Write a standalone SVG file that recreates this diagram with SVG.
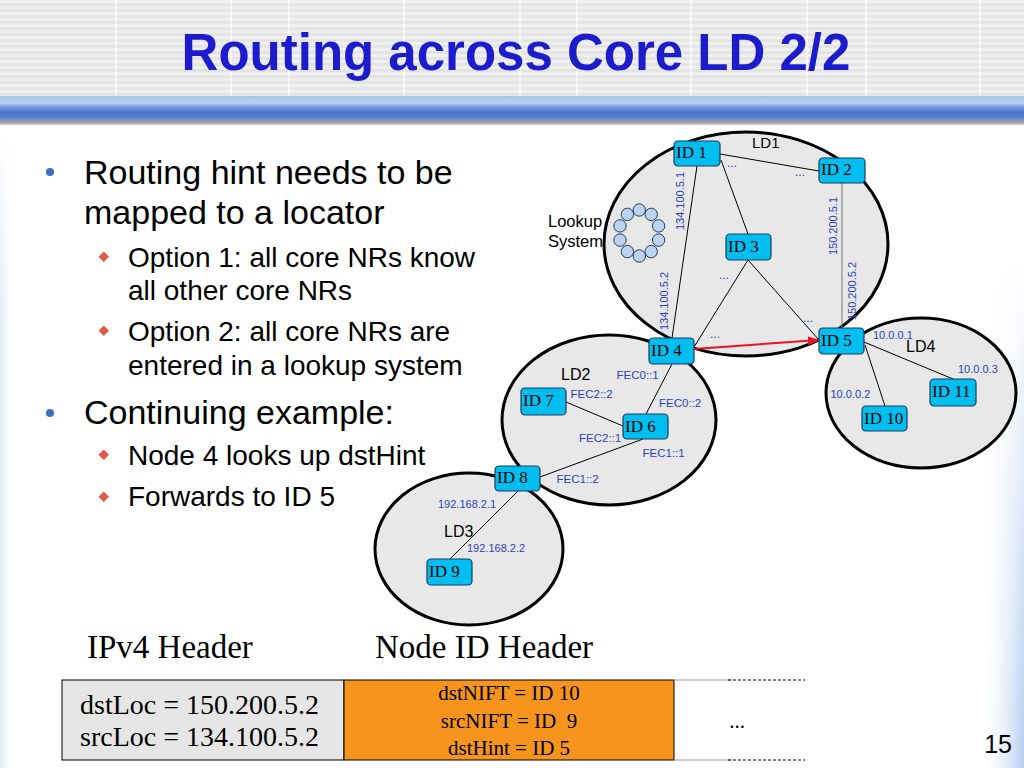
<svg xmlns="http://www.w3.org/2000/svg" width="1024" height="768" viewBox="0 0 1024 768">
<defs>
<pattern id="stripes" width="8" height="6" patternUnits="userSpaceOnUse">
<rect width="8" height="6" fill="#e4e4e4"/>
<rect width="8" height="3" fill="#f0f0f0"/>
</pattern>
<linearGradient id="band" x1="0" y1="0" x2="0" y2="1">
<stop offset="0" stop-color="#a8c4ec"/>
<stop offset="0.24" stop-color="#bcd3f2"/>
<stop offset="0.35" stop-color="#7c9ee0"/>
<stop offset="0.55" stop-color="#4a74cc"/>
<stop offset="0.72" stop-color="#5a80d0"/>
<stop offset="0.82" stop-color="#8a9ab8"/>
<stop offset="0.9" stop-color="#a8a8a8"/>
<stop offset="1" stop-color="#ffffff"/>
</linearGradient>
<linearGradient id="rightEdge" x1="0" y1="0" x2="1" y2="0">
<stop offset="0" stop-color="#ffffff" stop-opacity="0"/>
<stop offset="1" stop-color="#b4ccf0"/>
</linearGradient>
<linearGradient id="rightFade" x1="0" y1="0" x2="0" y2="1">
<stop offset="0" stop-color="#ffffff" stop-opacity="1"/>
<stop offset="0.2" stop-color="#ffffff" stop-opacity="1"/>
<stop offset="1" stop-color="#ffffff" stop-opacity="0"/>
</linearGradient>
<linearGradient id="leftEdge" x1="0" y1="0" x2="1" y2="0">
<stop offset="0" stop-color="#e2eaf8"/>
<stop offset="1" stop-color="#ffffff" stop-opacity="0"/>
</linearGradient>
<linearGradient id="leftFade" x1="0" y1="0" x2="0" y2="1">
<stop offset="0" stop-color="#ffffff" stop-opacity="1"/>
<stop offset="0.3" stop-color="#ffffff" stop-opacity="0"/>
<stop offset="1" stop-color="#ffffff" stop-opacity="0"/>
</linearGradient>
<marker id="redArrow" markerWidth="12" markerHeight="10" refX="11" refY="4.5" orient="auto" markerUnits="userSpaceOnUse">
<path d="M0,0 L12,4.5 L0,9 z" fill="#e8141c"/>
</marker>
<style>
.title{font-family:"Liberation Sans",Arial,sans-serif;font-weight:bold;font-size:51px;fill:#1c1ccc}
.b1{font-family:"Liberation Sans",Arial,sans-serif;font-size:34px;fill:#000}
.b2{font-family:"Liberation Sans",Arial,sans-serif;font-size:28px;fill:#000}
.ld{fill:#e8e8e8;stroke:#000;stroke-width:3}
.node rect{fill:#00bff0;stroke:#1d3b5c;stroke-width:1.2}
.node text{font-family:"Liberation Serif","Times New Roman",serif;font-size:17px;fill:#000}
.lbl{font-family:"Liberation Sans",Arial,sans-serif;font-size:11px;fill:#2b3fc0}
.fec{font-family:"Liberation Sans",Arial,sans-serif;font-size:11.5px;fill:#2b3fc0}
.dots{font-family:"Liberation Sans",Arial,sans-serif;font-size:12px;fill:#2b3fc0}
.ldt{font-family:"Liberation Sans",Arial,sans-serif;font-size:16px;fill:#000}
.edge{stroke:#000;stroke-width:1;fill:none}
.hdr{font-family:"Liberation Serif","Times New Roman",serif;font-size:33px;fill:#000}
.cell{font-family:"Liberation Serif","Times New Roman",serif;font-size:28px;fill:#000}
.cell2{font-family:"Liberation Serif","Times New Roman",serif;font-size:21px;fill:#000}
.lk{fill:#b8d4f0;stroke:#2a3a5a;stroke-width:1}
</style>
</defs>

<!-- background -->
<rect width="1024" height="768" fill="#ffffff"/>
<rect x="0" y="130" width="18" height="638" fill="url(#leftEdge)"/>
<rect x="0" y="130" width="18" height="638" fill="url(#leftFade)"/>
<rect x="978" y="130" width="46" height="638" fill="url(#rightEdge)"/>
<rect x="978" y="130" width="46" height="638" fill="url(#rightFade)"/>

<!-- header -->
<rect x="0" y="0" width="1024" height="96" fill="url(#stripes)"/>
<g stroke="#ffffff" stroke-width="1.2">
<line x1="116" y1="0" x2="116" y2="96"/>
<line x1="231" y1="0" x2="231" y2="96"/>
<line x1="289" y1="0" x2="289" y2="96"/>
<line x1="404" y1="0" x2="404" y2="96"/>
<line x1="520" y1="0" x2="520" y2="96"/>
<line x1="577" y1="0" x2="577" y2="96"/>
<line x1="691" y1="0" x2="691" y2="96"/>
<line x1="807" y1="0" x2="807" y2="96"/>
<line x1="866" y1="0" x2="866" y2="96"/>
<line x1="980" y1="0" x2="980" y2="96"/>
</g>
<rect x="0" y="96" width="1024" height="30" fill="url(#band)"/>
<text class="title" x="516" y="70" text-anchor="middle">Routing across Core LD 2/2</text>

<!-- bullets -->
<g id="bullets">
<circle cx="50" cy="172" r="4" fill="#3a6cc8"/>
<text class="b1" x="84" y="184">Routing hint needs to be</text>
<text class="b1" x="84" y="224">mapped to a locator</text>
<rect x="100" y="253" width="7.5" height="7.5" fill="#e05a4a" transform="rotate(45 103.75 256.75)"/>
<text class="b2" x="128" y="267">Option 1: all core NRs know</text>
<text class="b2" x="128" y="300">all other core NRs</text>
<rect x="100" y="327" width="7.5" height="7.5" fill="#e05a4a" transform="rotate(45 103.75 330.75)"/>
<text class="b2" x="128" y="341">Option 2: all core NRs are</text>
<text class="b2" x="128" y="375">entered in a lookup system</text>
<circle cx="50" cy="413" r="4" fill="#3a6cc8"/>
<text class="b1" x="84" y="424">Continuing example:</text>
<rect x="100" y="451" width="7.5" height="7.5" fill="#e05a4a" transform="rotate(45 103.75 454.75)"/>
<text class="b2" x="128" y="465">Node 4 looks up dstHint</text>
<rect x="100" y="493" width="7.5" height="7.5" fill="#e05a4a" transform="rotate(45 103.75 496.75)"/>
<text class="b2" x="128" y="506">Forwards to ID 5</text>
</g>

<!-- locator domains -->
<g id="LD1"><ellipse class="ld" cx="746" cy="244" rx="142" ry="112"/><text class="ldt" x="752" y="148" style="font-size:15px">LD1</text></g>
<g id="LD4"><ellipse class="ld" cx="921" cy="393" rx="95" ry="75"/><text class="ldt" x="906" y="352">LD4</text></g>
<g id="LD2"><ellipse class="ld" cx="609" cy="420" rx="107" ry="85"/><text class="ldt" x="561" y="380">LD2</text></g>
<g id="LD3"><ellipse class="ld" cx="469" cy="549" rx="94" ry="76"/><text class="ldt" x="444" y="537">LD3</text></g>

<!-- lookup system -->
<g id="lookup">
<text class="ldt" x="548" y="227" style="font-size:16.5px">Lookup</text>
<text class="ldt" x="548" y="247" style="font-size:16.5px">System</text>
<circle class="lk" cx="639.3" cy="210" r="6.2"/>
<circle class="lk" cx="651.2" cy="214.4" r="6.2"/>
<circle class="lk" cx="658.6" cy="225.9" r="6.2"/>
<circle class="lk" cx="658.6" cy="240.1" r="6.2"/>
<circle class="lk" cx="651.2" cy="251.6" r="6.2"/>
<circle class="lk" cx="639.3" cy="256" r="6.2"/>
<circle class="lk" cx="627.4" cy="251.6" r="6.2"/>
<circle class="lk" cx="620" cy="240.1" r="6.2"/>
<circle class="lk" cx="620" cy="225.9" r="6.2"/>
<circle class="lk" cx="627.4" cy="214.4" r="6.2"/>
</g>

<!-- connectors -->
<g id="connectors">
<line class="edge" x1="720" y1="154" x2="819" y2="171"/>
<line class="edge" x1="721" y1="160" x2="748" y2="234"/>
<line class="edge" x1="697" y1="166" x2="672" y2="338"/>
<line class="edge" x1="842" y1="183" x2="842" y2="328" style="stroke:#777"/>
<line class="edge" x1="748" y1="260" x2="694" y2="347"/>
<line class="edge" x1="748" y1="260" x2="819" y2="340"/>
<line class="edge" x1="672" y1="364" x2="646" y2="414"/>
<line class="edge" x1="566" y1="402" x2="623" y2="426"/>
<line class="edge" x1="643" y1="439" x2="540" y2="477"/>
<line class="edge" x1="518" y1="491" x2="450" y2="559"/>
<line class="edge" x1="865" y1="345" x2="885" y2="406"/>
<line class="edge" x1="864" y1="342" x2="953" y2="379"/>
<line x1="694" y1="349" x2="819" y2="340" stroke="#e8141c" stroke-width="2" marker-end="url(#redArrow)"/>
</g>

<!-- link labels -->
<g id="labels">
<text class="dots" x="727" y="167">...</text>
<text class="dots" x="795" y="176">...</text>
<text class="dots" x="719" y="279">...</text>
<text class="dots" x="803" y="322">...</text>
<text class="dots" x="710" y="338">...</text>
<text class="lbl" x="684" y="201" text-anchor="middle" transform="rotate(-90 684 201)">134.100.5.1</text>
<text class="lbl" x="668" y="301" text-anchor="middle" transform="rotate(-90 668 301)">134.100.5.2</text>
<text class="lbl" x="836.5" y="226" text-anchor="middle" transform="rotate(-90 836.5 226)">150.200.5.1</text>
<text class="lbl" x="855.5" y="291" text-anchor="middle" transform="rotate(-90 855.5 291)">150.200.5.2</text>
<text class="fec" x="616.5" y="379">FEC0::1</text>
<text class="fec" x="570.5" y="398">FEC2::2</text>
<text class="fec" x="659" y="407">FEC0::2</text>
<text class="fec" x="579" y="442">FEC2::1</text>
<text class="fec" x="642.5" y="457">FEC1::1</text>
<text class="fec" x="556.5" y="483">FEC1::2</text>
<text class="lbl" x="438" y="508">192.168.2.1</text>
<text class="lbl" x="467" y="552">192.168.2.2</text>
<text class="lbl" x="873" y="339">10.0.0.1</text>
<text class="lbl" x="958" y="373">10.0.0.3</text>
<text class="lbl" x="830.5" y="398">10.0.0.2</text>
</g>

<!-- nodes -->
<g id="id1" class="node"><rect x="674" y="141" width="46" height="25" rx="4"/><text x="676" y="158">ID 1</text></g>
<g id="id2" class="node"><rect x="819" y="158" width="46" height="25" rx="4"/><text x="821" y="175">ID 2</text></g>
<g id="id3" class="node"><rect x="726" y="234" width="45" height="26" rx="4"/><text x="728" y="252">ID 3</text></g>
<g id="id4" class="node"><rect x="649" y="338" width="45" height="26" rx="4"/><text x="651" y="356">ID 4</text></g>
<g id="id5" class="node"><rect x="819" y="328" width="45" height="26" rx="4"/><text x="821" y="346">ID 5</text></g>
<g id="id6" class="node"><rect x="623" y="414" width="45" height="25" rx="4"/><text x="625" y="432">ID 6</text></g>
<g id="id7" class="node"><rect x="521" y="388" width="45" height="27" rx="4"/><text x="523" y="406">ID 7</text></g>
<g id="id8" class="node"><rect x="495" y="466" width="45" height="25" rx="4"/><text x="497" y="483">ID 8</text></g>
<g id="id9" class="node"><rect x="427" y="559" width="45" height="26" rx="4"/><text x="429" y="577">ID 9</text></g>
<g id="id10" class="node"><rect x="862" y="406" width="45" height="25" rx="4"/><text x="864" y="424">ID 10</text></g>
<g id="id11" class="node"><rect x="930" y="379" width="46" height="27" rx="4"/><text x="932" y="397">ID 11</text></g>

<!-- packet headers -->
<g id="packet">
<text class="hdr" x="87" y="658">IPv4 Header</text>
<text class="hdr" x="375" y="658">Node ID Header</text>
<rect x="62" y="680" width="282" height="80" fill="#e6e6e6" stroke="#000" stroke-width="1"/>
<rect x="344" y="680" width="330" height="80" fill="#f7941e" stroke="#000" stroke-width="1"/>
<text class="cell" x="80" y="714">dstLoc = 150.200.5.2</text>
<text class="cell" x="80" y="746">srcLoc = 134.100.5.2</text>
<text class="cell2" x="509" y="700" text-anchor="middle">dstNIFT = ID 10</text>
<text class="cell2" x="509" y="728" text-anchor="middle" xml:space="preserve">srcNIFT = ID  9</text>
<text class="cell2" x="509" y="755" text-anchor="middle">dstHint = ID 5</text>
<line x1="674" y1="680" x2="732" y2="680" stroke="#999" stroke-width="1"/>
<line x1="674" y1="760" x2="732" y2="760" stroke="#999" stroke-width="1"/>
<line x1="728" y1="680" x2="805" y2="680" stroke="#000" stroke-width="1" stroke-dasharray="3,2"/>
<line x1="728" y1="760" x2="805" y2="760" stroke="#000" stroke-width="1" stroke-dasharray="3,2"/>
<text class="cell2" x="737" y="728" text-anchor="middle">...</text>
</g>

<text x="1012" y="753" text-anchor="end" font-family="Liberation Sans, Arial, sans-serif" font-size="25" fill="#000">15</text>
</svg>
